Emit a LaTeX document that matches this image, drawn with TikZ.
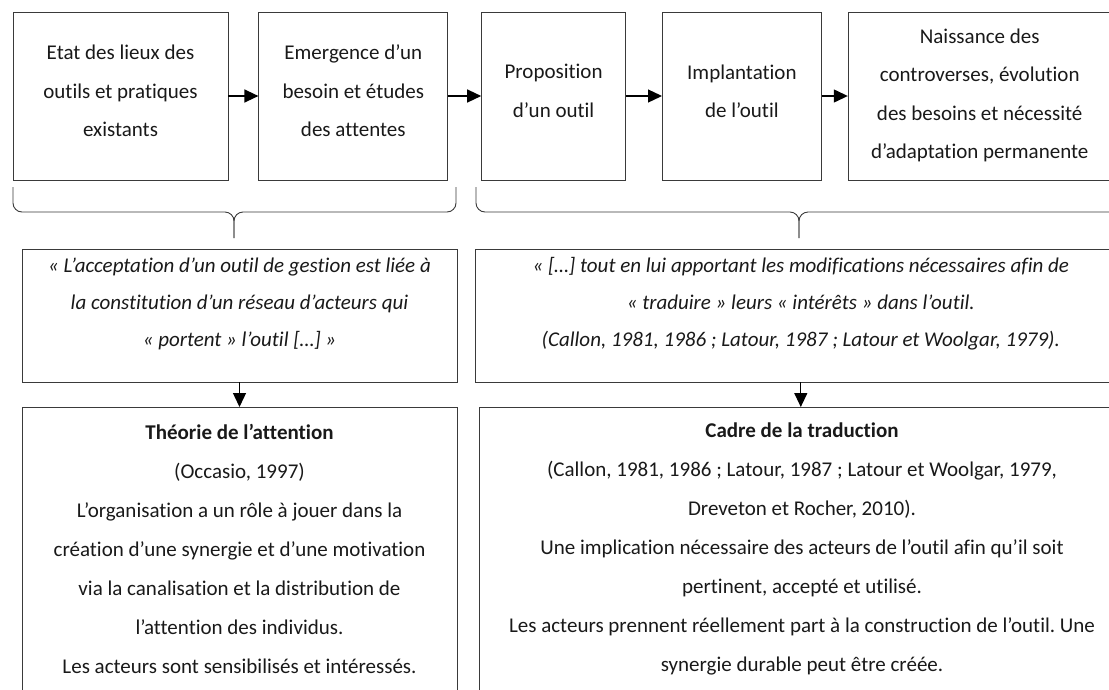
\documentclass[tikz,border=0pt]{standalone}
\usepackage{fontspec}
\setmainfont{Carlito}[Ligatures=NoCommon]
\frenchspacing
\usetikzlibrary{arrows.meta,positioning}
\definecolor{trait}{HTML}{3A3A3A}

\begin{document}
\begin{tikzpicture}[x=1pt, y=1pt, >={Triangle[length=14pt,width=13pt]},
    font={\fontsize{21}{38.5}\selectfont}, text=black!90]
  \tikzstyle{etape}=[draw=trait, line width=0.8pt, align=center, minimum height=168pt, inner sep=0pt, text depth=10pt]
  \tikzstyle{citation}=[draw=trait, line width=0.8pt, align=center, minimum height=133pt,
    font={\fontsize{21}{37}\selectfont\itshape}, text depth=27pt]
  \tikzstyle{cadre}=[draw=trait, line width=0.8pt, align=center, minimum height=284pt, anchor=north,
    font={\fontsize{21}{39}\selectfont}]
  \tikzstyle{fleche}=[->, line width=1.3pt, black]
  \tikzstyle{accolade}=[draw=trait, line width=0.9pt, rounded corners=9pt]

  \useasboundingbox (0,0) rectangle (1109,-689);
  \clip (0,0) rectangle (1109,-689);

  % les etapes
  \node[etape, minimum width=215pt] (e1) at (120.5,-96) {Etat des lieux des\\outils et pratiques\\existants};
  \node[etape, minimum width=189pt] (e2) [right=30pt of e1] {Emergence d’un\\besoin et études\\des attentes};
  \node[etape, minimum width=144pt] (e3) [right=33pt of e2] {Proposition\\d’un outil};
  \node[etape, minimum width=159pt] (e4) [right=36pt of e3] {Implantation\\de l’outil};
  \node[etape, minimum width=263pt, text depth=5pt] (e5) [right=26pt of e4] {Naissance des\\controverses, évolution\\des besoins et nécessité\\d’adaptation permanente};

  \draw[fleche] (e1) -- (e2);
  \draw[fleche] (e2) -- (e3);
  \draw[fleche] (e3) -- (e4);
  \draw[fleche] (e4) -- (e5);

  % accolades
  \draw[accolade] (13,-187) |- (234,-212) -- (234,-238);
  \draw[accolade] (456,-187) |- (234,-212) -- (234,-238);
  \draw[accolade] (476,-187) |- (799,-212) -- (799,-238);
  \draw[accolade] (1122,-187) |- (799,-212) -- (799,-238);

  \node[citation, minimum width=435pt] (c1) at (239.5,-315.5) {« L’acceptation d’un outil de gestion est liée à\\la constitution d’un réseau d’acteurs qui\\« portent » l’outil […] »};
  \node[citation, minimum width=650pt] (c2) [right=18pt of c1] {« […] tout en lui apportant les modifications nécessaires afin de\\« traduire » leurs « intérêts » dans l’outil.\\(Callon, 1981, 1986 ; Latour, 1987 ; Latour et Woolgar, 1979).};

  \node[cadre, minimum width=435pt] (t1) at (239.5,-407) {\textbf{Théorie de l’attention}\\(Occasio, 1997)\\L’organisation a un rôle à jouer dans la\\création d’une synergie et d’une motivation\\via la canalisation et la distribution de\\l’attention des individus.\\Les acteurs sont sensibilisés et intéressés.};
  \node[cadre, minimum width=646pt] (t2) at (802,-407) {\textbf{Cadre de la traduction}\\(Callon, 1981, 1986 ; Latour, 1987 ; Latour et Woolgar, 1979,\\Dreveton et Rocher, 2010).\\Une implication nécessaire des acteurs de l’outil afin qu’il soit\\pertinent, accepté et utilisé.\\Les acteurs prennent réellement part à la construction de l’outil. Une\\synergie durable peut être créée.};

  \draw[fleche] (c1) -- (t1);
  \draw[fleche] (c2.south) -- (c2.south |- t2.north);
\end{tikzpicture}
\end{document}
